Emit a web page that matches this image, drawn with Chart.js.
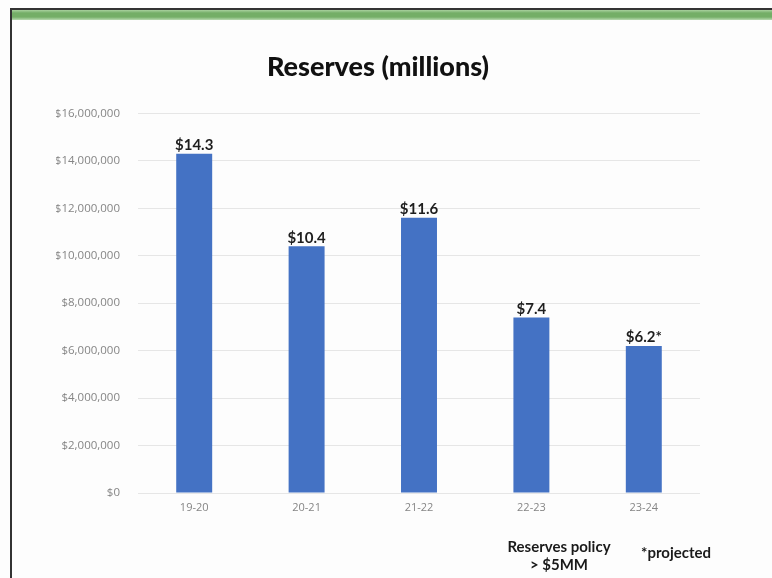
<!DOCTYPE html>
<html>
<head>
<meta charset="utf-8">
<script src="https://cdn.jsdelivr.net/npm/chart.js@4.4.1/dist/chart.umd.min.js"></script>
<style>
  html, body { margin: 0; padding: 0; background: #fff; }
  #wrap { position: relative; width: 772px; height: 578px; overflow: hidden; background: #fdfdfd; }
  #frameTop { position: absolute; left: 10px; top: 8px; right: 0; height: 2px; background: #333; }
  #frameLeft { position: absolute; left: 10px; top: 8px; width: 2px; bottom: 0; background: #333; }
  #band { position: absolute; left: 12px; top: 10px; right: 0; height: 10px;
          background: linear-gradient(#a9d19f, #74ae67 30%, #74ae67 70%, #b9dab1); }
  canvas { position: absolute; left: 0; top: 0; }
</style>
</head>
<body>
<div id="wrap">
  <canvas id="chart" width="772" height="578"></canvas>
  <div id="frameTop"></div>
  <div id="frameLeft"></div>
  <div id="band"></div>
</div>
<script>
const categories = ["19-20", "20-21", "21-22", "22-23", "23-24"]
const reserves = [14300000, 10400000, 11600000, 7400000, 6200000]
const valueLabels = ["$14.3", "$10.4", "$11.6", "$7.4", "$6.2*"]
const yTicks = [0, 2000000, 4000000, 6000000, 8000000, 10000000, 12000000, 14000000, 16000000]

const barBlue = "#4472c4"
const tickGray = "#858585"

// value labels sitting on top of each bar
const barLabels = {
  id: "barLabels",
  afterDatasetsDraw(chart) {
    const { ctx } = chart
    const meta = chart.getDatasetMeta(0)
    ctx.save()
    ctx.fillStyle = "#1e1e1e"
    ctx.font = "bold 15px Lato, 'Open Sans', sans-serif"
    ctx.textAlign = "center"
    ctx.textBaseline = "bottom"
    meta.data.forEach((bar, i) => {
      ctx.fillText(valueLabels[i], bar.x, bar.y - 1)
    })
    ctx.restore()
  },
}

// notes under the axis
const footNotes = {
  id: "footNotes",
  afterDraw(chart) {
    const { ctx } = chart
    ctx.save()
    ctx.fillStyle = "#1a1a1a"
    ctx.font = "bold 15px Lato, 'Open Sans', sans-serif"
    ctx.textAlign = "center"
    ctx.textBaseline = "middle"
    ctx.fillText("Reserves policy", 559, 547)
    ctx.fillText("> $5MM", 559, 565)
    ctx.fillText("*projected", 676, 553)
    ctx.restore()
  },
}

new Chart(document.getElementById("chart"), {
  type: "bar",
  data: {
    labels: categories,
    datasets: [
      {
        label: "Reserves",
        data: reserves,
        backgroundColor: barBlue,
        borderWidth: 0,
        categoryPercentage: 1,
        barPercentage: 0.32,
      },
    ],
  },
  options: {
    responsive: false,
    animation: false,
    layout: {
      // left padding also shifts the centred title
      padding: { left: 56, right: 72, top: 0, bottom: 55 },
    },
    scales: {
      x: {
        grid: { display: false, drawTicks: false },
        border: { display: false },
        ticks: {
          color: tickGray,
          padding: 8,
          font: { family: "'Open Sans', sans-serif", size: 11 },
        },
        afterFit: (scale) => { scale.height = 30 },
      },
      y: {
        min: 0,
        max: 16000000,
        afterBuildTicks: (scale) => {
          scale.ticks = yTicks.map((v) => ({ value: v }))
        },
        grid: { color: "#e6e6e6", lineWidth: 1, drawTicks: false },
        border: { display: false },
        ticks: {
          color: tickGray,
          padding: 18,
          font: { family: "'Open Sans', sans-serif", size: 11.5 },
          callback: (value) => "$" + Number(value).toLocaleString("en-US"),
        },
        afterFit: (scale) => { scale.width = 82 },
      },
    },
    plugins: {
      legend: { display: false },
      tooltip: { enabled: false },
      title: {
        display: true,
        text: "Reserves (millions)",
        color: "#111111",
        font: { family: "Lato, sans-serif", size: 27, weight: 900, lineHeight: 1.2 },
        padding: { top: 51, bottom: 30 },
      },
    },
  },
  plugins: [barLabels, footNotes],
})
</script>
</body>
</html>
